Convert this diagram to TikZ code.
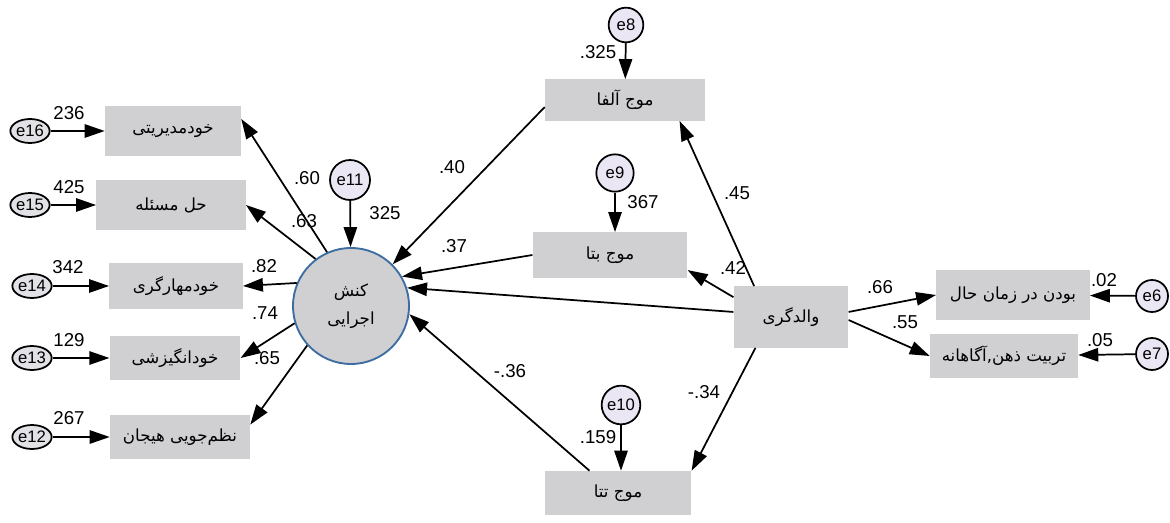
\documentclass[tikz,border=0pt]{standalone}
\usepackage{fontspec}
\setmainfont{Liberation Sans}
\newfontfamily\farsi[Script=Arabic]{DejaVu Sans}
\TeXXeTstate=1
\usetikzlibrary{arrows.meta,shapes.geometric,calc}
\definecolor{boxgray}{RGB}{208,207,210}
\definecolor{errgray}{RGB}{226,225,230}
\definecolor{errlilac}{RGB}{234,230,244}
\definecolor{ringblue}{RGB}{62,110,160}
\newcommand{\fatxt}[1]{{\farsi\beginR #1\endR}}

\begin{document}
\begin{tikzpicture}[x=0.75pt,y=-0.75pt,>={Triangle[length=15pt,width=10pt]},
  var/.style 2 args={fill=boxgray,inner sep=2pt,minimum width=#1,minimum height=#2,font=\fontsize{12.5}{14}\selectfont},
  err/.style={ellipse,draw,line width=1.3pt,fill=errgray,inner sep=0pt,minimum width=29pt,minimum height=18pt,font=\fontsize{12.5}{13}\selectfont},
  errc/.style={circle,draw,line width=1.3pt,fill=errlilac,inner sep=0pt,minimum size=#1,font=\fontsize{12.5}{13}\selectfont},
  num/.style={inner sep=0pt,font=\fontsize{14}{15}\selectfont},
  link/.style={->,line width=1.3pt}]
\useasboundingbox[fill=white] (0,0) rectangle (1170,523);

% left indicators
\node[var={102pt}{37pt}] (sm) at (173,131) {\fatxt{خودمدیریتی}};
\node[var={112pt}{37pt}] (ps) at (171,205) {\fatxt{حل مسئله}};
\node[var={100pt}{34pt}] (sc) at (176,286) {\fatxt{خودمهارگری}};
\node[var={98pt}{33pt}] (mo) at (175,358) {\fatxt{خودانگیزشی}};
\node[var={105pt}{33pt}] (er) at (180,437) {\fatxt{نظم‌جویی هیجان}};
\node[err] (e16) at (30,131) {e16};
\node[err] (e15) at (30,205) {e15};
\node[err] (e14) at (32,286) {e14};
\node[err] (e13) at (32,358) {e13};
\node[err] (e12) at (32,437) {e12};

% latent
\node[circle,draw=ringblue,line width=1.4pt,fill=boxgray,minimum size=87pt,align=center,font=\fontsize{12.5}{14}\selectfont] (ef) at (351,306) {\fatxt{کنش}\\[7pt]\fatxt{اجرایی}};
\node[errc=30pt] (e11) at (350,180) {e11};

% waves
\node[var={120pt}{31pt}] (alpha) at (625,100) {\fatxt{موج آلفا}};
\node[var={116pt}{34pt}] (beta) at (610,255) {\fatxt{موج بتا}};
\node[var={110pt}{33pt}] (theta) at (618,493) {\fatxt{موج تتا}};
\node[errc=26pt] (e8) at (626,25) {e8};
\node[errc=28pt] (e9) at (615,173) {e9};
\node[errc=29pt] (e10) at (621,405) {e10};

% parenting
\node[var={86pt}{46pt}] (par) at (791,317) {\fatxt{والدگری}};
\node[var={115pt}{37pt}] (pres) at (1013,295) {\fatxt{بودن در زمان حال}};
\node[var={111pt}{33pt}] (mind) at (1004,356) {\fatxt{تربیت ذهن,آگاهانه}};
\node[errc=24pt] (e6) at (1152,296) {e6};
\node[errc=24pt] (e7) at (1152,354) {e7};

\draw[link] (e16) -- (sm);
\draw[link] (e15) -- (ps);
\draw[link] (e14) -- (sc);
\draw[link] (e13) -- (mo);
\draw[link] (e12) -- (er);
\draw[link] (ef.114) -- (sm.10);
\draw[link] (ef.127) -- (ps.east);
\draw[link] (ef.157) -- (sc.east);
\draw[link] (ef.197) -- (mo.east);
\draw[link] (ef.222) -- (er.10);
\draw[link] (e11) -- (ef);
\draw[link] (alpha.185) -- (ef.45);
\draw[link] (beta.west) -- (ef.30);
\draw[link] (par.175) -- (ef.18);
\draw[link] (theta.142) -- (ef.-8);
\draw[link] (par.140) -- (alpha.-21);
\draw[link] (par.161) -- (beta.-11);
\draw[link] (par.221) -- (theta.north east);
\draw[link] (par.5) -- (pres.west);
\draw[link] (par.-3) -- (mind.west);
\draw[link] (e6) -- (pres);
\draw[link] (e7) -- (mind);
\draw[link] (e8) -- (alpha);
\draw[link] (e9) -- (e9 |- beta.north);
\draw[link] (e10) -- (e10 |- theta.north);

% weights
\node[num] (w16) at (69,113) {236};
\node[num] (w15) at (69,187) {425};
\node[num] (w14) at (68,267) {342};
\node[num] (w13) at (69,340) {129};
\node[num] (w12) at (69,418) {267};
\node[num] (l60) at (307,178) {.60};
\node[num] (l63) at (304,221) {.63};
\node[num] (l82) at (264,266) {.82};
\node[num] (l74) at (265,313) {.74};
\node[num] (l65) at (267,358) {.65};
\node[num] (w11) at (385,213) {325};
\node[num] (l40) at (452,167) {.40};
\node[num] (l37) at (454,246) {.37};
\node[num] (l36) at (510,371) {-.36};
\node[num] (w8) at (598,52) {.325};
\node[num] (w9) at (643,202) {367};
\node[num] (w10) at (598,437) {.159};
\node[num] (l45) at (737,193) {.45};
\node[num] (l42) at (733,268) {.42};
\node[num] (l34) at (704,392) {-.34};
\node[num] (l66) at (880,287) {.66};
\node[num] (l55) at (905,322) {.55};
\node[num] (w6) at (1104,280) {.02};
\node[num] (w7) at (1100,340) {.05};
\end{tikzpicture}
\end{document}
